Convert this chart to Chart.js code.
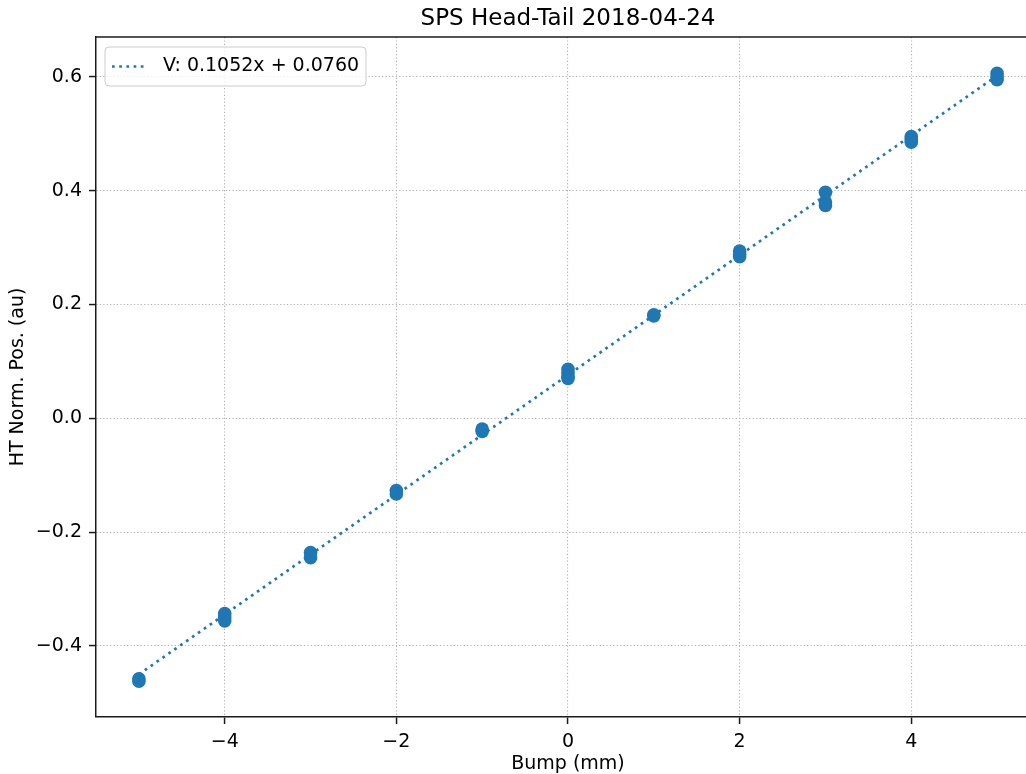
<!DOCTYPE html>
<html>
<head>
<meta charset="utf-8">
<title>SPS Head-Tail 2018-04-24</title>
<script src="https://cdn.jsdelivr.net/npm/chart.js@4.4.1/dist/chart.umd.min.js"></script>
<style>
  html, body { margin: 0; padding: 0; background: #fff; overflow: hidden; }
  #wrap { position: relative; width: 1060px; height: 774px; }
</style>
</head>
<body>
<div id="wrap"><canvas id="ht"></canvas></div>
<script>
// Head-tail normalised position vs. orbit bump, with linear fit.
const bumpMm = [-5, -5, -4, -4, -4, -3, -3, -2, -2, -1, -1, 0, 0, 0, 0, 1, 1,
                2, 2, 2, 3, 3, 3, 4, 4, 4, 5, 5, 5];
const htPos  = [-0.458, -0.462, -0.343, -0.350, -0.356, -0.236, -0.245, -0.127, -0.133,
                -0.019, -0.023, 0.086, 0.079, 0.073, 0.070, 0.182, 0.180,
                0.294, 0.288, 0.284, 0.397, 0.380, 0.374, 0.495, 0.490, 0.485,
                0.606, 0.600, 0.595];

const fitSlope = 0.1052;
const fitIntercept = 0.0760;
const fitRange = [-5, 5];

const xTicks = [-4, -2, 0, 2, 4];
const yTicks = [-0.4, -0.2, 0.0, 0.2, 0.4, 0.6];

const BLUE = "#1f77b4";
const FONT = "DejaVu Sans";

const points = bumpMm.map((x, i) => ({ x, y: htPos[i] }));
const fitLine = fitRange.map(x => ({ x, y: fitSlope * x + fitIntercept }));
const fitLabel = `V: ${fitSlope.toFixed(4)}x + ${fitIntercept.toFixed(4)}`;

// matplotlib-style minus sign
const fmt = d => v => (v < -1e-9 ? "\u2212" : "") + Math.abs(v).toFixed(d);

// title, top spine and the in-axes legend box
const decor = {
  id: "decor",
  afterDraw(chart) {
    const { ctx, chartArea: a } = chart;
    ctx.save();

    ctx.strokeStyle = "#1a1a1a";
    ctx.lineWidth = 1.5;
    ctx.beginPath();
    ctx.moveTo(a.left, a.top);
    ctx.lineTo(a.right, a.top);
    ctx.stroke();

    ctx.fillStyle = "#000";
    ctx.font = `23px "${FONT}"`;
    ctx.textAlign = "center";
    ctx.textBaseline = "middle";
    ctx.fillText("SPS Head-Tail 2018-04-24", (a.left + a.right) / 2, 19);

    const bx = a.left + 9, by = a.top + 10, bw = 261, bh = 39;
    ctx.beginPath();
    ctx.roundRect(bx, by, bw, bh, 4);
    ctx.fillStyle = "rgba(255,255,255,0.8)";
    ctx.fill();
    ctx.strokeStyle = "#cccccc";
    ctx.lineWidth = 1;
    ctx.stroke();

    const ly = by + bh / 2;
    ctx.strokeStyle = BLUE;
    ctx.lineWidth = 2.7;
    ctx.setLineDash([2.7, 4.5]);
    ctx.beginPath();
    ctx.moveTo(bx + 7, ly);
    ctx.lineTo(bx + 42, ly);
    ctx.stroke();
    ctx.setLineDash([]);

    ctx.fillStyle = "#000";
    ctx.font = `19px "${FONT}"`;
    ctx.textAlign = "left";
    ctx.fillText(fitLabel, bx + 58, ly);
    ctx.restore();
  }
};

Chart.defaults.font.family = FONT;
Chart.defaults.font.size = 19;
Chart.defaults.color = "#000";

const gridCfg = {
  color: "#b0b0b0",
  lineWidth: 1.1,
  tickLength: 7,
  tickColor: "#1a1a1a",
  tickWidth: 1.5,
  tickBorderDash: []
};
const borderCfg = { display: true, color: "#1a1a1a", width: 1.5, dash: [1.2, 2.2] };

new Chart(document.getElementById("ht"), {
  data: {
    datasets: [
      {
        type: "scatter",
        data: points,
        backgroundColor: BLUE,
        borderWidth: 0,
        pointRadius: 6.8,
        pointHoverRadius: 6.8,
        order: 2
      },
      {
        type: "line",
        data: fitLine,
        borderColor: BLUE,
        borderWidth: 2.7,
        borderDash: [2.7, 4.5],
        pointRadius: 0,
        fill: false,
        order: 1
      }
    ]
  },
  options: {
    responsive: true,
    maintainAspectRatio: false,
    animation: false,
    layout: { padding: { top: 37, right: 20, left: 0, bottom: 0 } },
    plugins: {
      legend: { display: false },
      tooltip: { enabled: false },
      title: { display: false }
    },
    scales: {
      x: {
        type: "linear",
        min: -5.5, max: 5.5,
        z: 1,
        afterBuildTicks: s => { s.ticks = xTicks.map(v => ({ value: v })); },
        afterFit: s => { s.height = 57; },
        ticks: { padding: 7, callback: fmt(0), maxRotation: 0 },
        grid: gridCfg,
        border: borderCfg,
        title: { display: true, text: "Bump (mm)", font: { lineHeight: 1.0 }, padding: { top: 0, bottom: 0 } }
      },
      y: {
        type: "linear",
        min: -0.525, max: 0.67,
        z: 1,
        afterBuildTicks: s => { s.ticks = yTicks.map(v => ({ value: v })); },
        afterFit: s => { s.width = 96; },
        ticks: { padding: 7, callback: fmt(1) },
        grid: gridCfg,
        border: borderCfg,
        title: { display: true, text: "HT Norm. Pos. (au)", padding: { top: 7, bottom: 0 } }
      }
    }
  },
  plugins: [decor]
});
</script>
</body>
</html>
